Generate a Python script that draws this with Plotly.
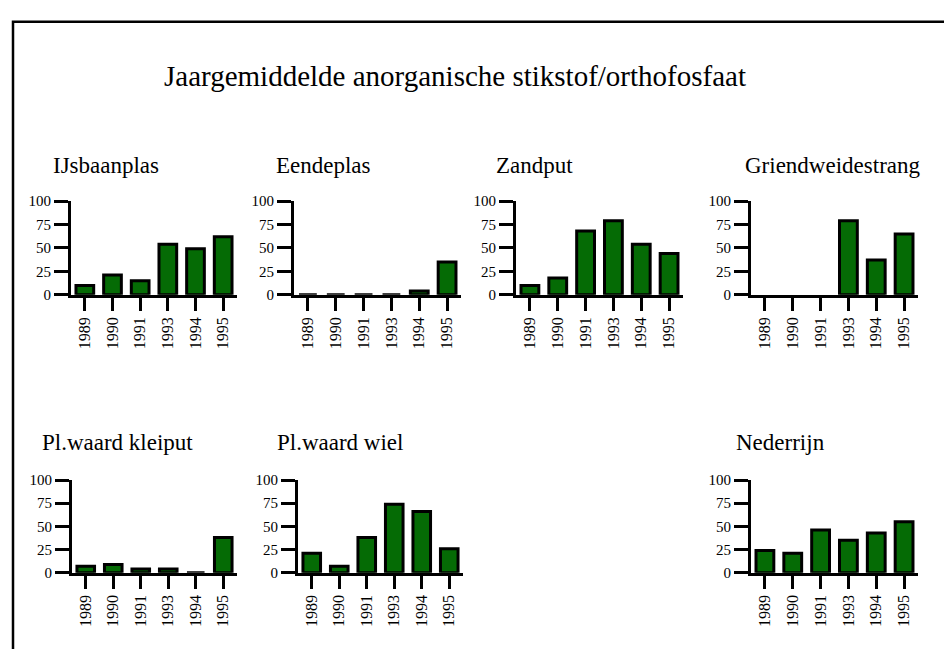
import plotly.graph_objects as go

# Yearly mean inorganic nitrogen / orthophosphate ratio per water body
years = ["1989", "1990", "1991", "1993", "1994", "1995"]

ijsbaanplas = [10, 21, 15, 54, 49, 62]
eendeplas = [0, 0, 0, 0, 4, 35]
zandput = [10, 18, 68, 79, 54, 44]
griendweidestrang = [None, None, None, 79, 37, 65]
kleiput = [7, 9, 4, 4, 0, 38]
wiel = [21, 7, 38, 74, 66, 26]
nederrijn = [24, 21, 46, 35, 43, 55]

names = ["IJsbaanplas", "Eendeplas", "Zandput", "Griendweidestrang",
         "Pl.waard kleiput", "Pl.waard wiel", "Nederrijn"]
series = [ijsbaanplas, eendeplas, zandput, griendweidestrang,
          kleiput, wiel, nederrijn]

yticks = [0, 25, 50, 75, 100]
main_title = "Jaargemiddelde anorganische stikstof/orthofosfaat"

W, H = 944, 649
FONT = "Liberation Serif, Times New Roman, serif"
BAR_COLOR = "#056b05"


def px_x(v):
    return v / W


def px_y(v):
    return 1 - v / H


# panel placement in pixels: (left, right, top, bottom, title_x, title_y)
panels = [
    (71, 237, 198, 294, 51, 161),
    (294, 461, 198, 294, 274, 161),
    (516, 683, 198, 294, 494, 161),
    (751, 918, 198, 294, 743, 161),
    (72, 237, 484, 579, 40, 445),
    (298, 463, 484, 579, 275, 445),
    (751, 918, 484, 579, 734, 445),
]

fig = go.Figure()
annotations = []

for i, (name, vals, p) in enumerate(zip(names, series, panels)):
    left, right, top, bottom, tx, ty = p
    sfx = "" if i == 0 else str(i + 1)
    fig.add_trace(go.Bar(
        x=years, y=vals, xaxis="x" + sfx, yaxis="y" + sfx,
        width=0.64,
        marker=dict(color=BAR_COLOR, line=dict(color="black", width=3)),
        showlegend=False, hoverinfo="x+y",
    ))
    fig.layout["xaxis" + sfx] = dict(
        domain=[px_x(left), px_x(right)], anchor="y" + sfx,
        type="category", range=[-0.5, 5.5],
        showline=True, linecolor="black", linewidth=3,
        ticks="outside", ticklen=13, tickwidth=3, tickcolor="black",
        tickangle=-90, tickfont=dict(family=FONT, size=16, color="black"),
        showgrid=False, zeroline=False, fixedrange=True,
    )
    fig.layout["yaxis" + sfx] = dict(
        domain=[px_y(bottom), px_y(top)], anchor="x" + sfx,
        range=[0, 100], tickvals=yticks,
        showline=True, linecolor="black", linewidth=3,
        ticks="outside", ticklen=14, tickwidth=3, tickcolor="black",
        tickfont=dict(family=FONT, size=15, color="black"),
        showgrid=False, zeroline=False, fixedrange=True,
    )
    annotations.append(dict(
        text=name, x=px_x(tx), y=px_y(ty), xref="paper", yref="paper",
        xanchor="left", yanchor="middle", showarrow=False,
        font=dict(family=FONT, size=23, color="black"),
    ))

annotations.append(dict(
    text=main_title, x=px_x(455), y=px_y(70), xref="paper", yref="paper",
    xanchor="center", yanchor="middle", showarrow=False,
    font=dict(family=FONT, size=29, color="black"),
))

fig.update_layout(
    width=W, height=H,
    margin=dict(l=0, r=0, t=0, b=0),
    paper_bgcolor="white", plot_bgcolor="rgba(0,0,0,0)",
    annotations=annotations,
    shapes=[dict(
        type="rect", xref="paper", yref="paper",
        x0=px_x(13), x1=1.05, y0=-0.05, y1=px_y(14),
        line=dict(color="black", width=2.5),
    )],
)

fig.write_html("out.html")
